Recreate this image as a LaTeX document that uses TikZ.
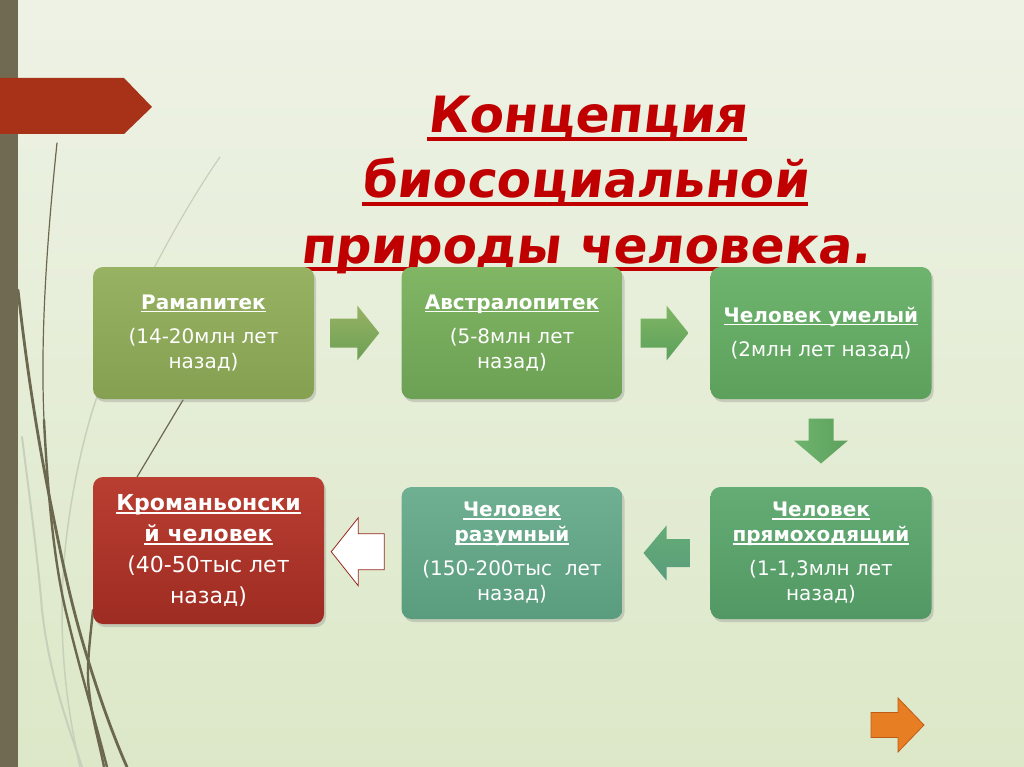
\documentclass[tikz,border=0pt]{standalone}
\usepackage{fontspec}
\setmainfont{DejaVu Sans}
\newfontfamily\titlefont[FakeSlant=0.12]{DejaVu Sans Bold}
\usetikzlibrary{shadows,calc}
\definecolor{bgtop}{RGB}{238,242,229}
\definecolor{bgbot}{RGB}{220,232,200}
\definecolor{barcol}{RGB}{112,106,82}
\definecolor{bannercol}{RGB}{168,50,24}
\definecolor{titlered}{RGB}{192,0,0}
\definecolor{stemcol}{RGB}{108,104,80}
\definecolor{stemlight}{RGB}{200,208,185}
\definecolor{bAt}{RGB}{152,178,100}\definecolor{bAb}{RGB}{132,160,80}
\definecolor{bBt}{RGB}{128,182,100}\definecolor{bBb}{RGB}{108,160,84}
\definecolor{bCt}{RGB}{110,180,110}\definecolor{bCb}{RGB}{92,160,92}
\definecolor{bDt}{RGB}{100,172,116}\definecolor{bDb}{RGB}{82,152,100}
\definecolor{bEt}{RGB}{112,176,146}\definecolor{bEb}{RGB}{90,156,126}
\definecolor{bFt}{RGB}{186,62,50}\definecolor{bFb}{RGB}{158,44,34}
\definecolor{orangecol}{RGB}{232,126,36}
\definecolor{orangeline}{RGB}{190,92,22}
\definecolor{wline}{RGB}{150,40,30}
\newcommand\ulin[4]{\leavevmode\setbox0=\hbox{#4}\rlap{\color{#3}\rule[-#1]{\wd0}{#2}}\box0}
\newcommand\hd[1]{\textbf{\ulin{3pt}{1.5pt}{white}{#1}}}
\tikzset{
  titletext/.style={anchor=base, inner sep=0pt, text=titlered,
    font=\titlefont\fontsize{50}{60}\selectfont},
  stagebox/.style={rounded corners=10pt, minimum width=221pt, minimum height=132pt,
    text=white, align=center, inner sep=0pt,
    font=\fontsize{20}{25}\selectfont,
    drop shadow={shadow xshift=2pt, shadow yshift=-3pt, opacity=0.3}},
  stem/.style={draw=stemcol, line cap=round},
  lightstem/.style={draw=stemlight, line cap=round},
  pics/blockarrow/.style args={#1/#2/#3/#4}{code={
    \path[pic actions] (-#1,-#3) -- ({#1-#4},-#3) -- ({#1-#4},-#2) -- (#1,0)
      -- ({#1-#4},#2) -- ({#1-#4},#3) -- (-#1,#3) -- cycle;}}
}
\begin{document}
\begin{tikzpicture}[x=1pt,y=-1pt]
\useasboundingbox (0,0) rectangle (1024,767);
% background
\fill[top color=bgtop, bottom color=bgbot] (0,0) rectangle (1024,767);
% light stems
\draw[lightstem, line width=1.2pt] (220,157) .. controls (190,200) and (150,270) .. (120,340);
\draw[lightstem, line width=1.5pt] (97,397) .. controls (85,430) and (62,520) .. (62,610) .. controls (62,680) and (72,730) .. (80,767);
\draw[lightstem, line width=2pt] (22,437) .. controls (30,500) and (38,560) .. (42,610) .. controls (50,680) and (70,730) .. (82,767);
% dark stems
\draw[stem, line width=1.2pt] (57,143) .. controls (48,230) and (40,330) .. (44,420);
\draw[stem, line width=2.4pt] (44,420) .. controls (48,500) and (55,570) .. (68,620) .. controls (80,670) and (95,720) .. (107,767);
\draw[stem, line width=2.8pt] (18,290) .. controls (28,380) and (40,450) .. (50,500) .. controls (62,560) and (70,600) .. (85,650) .. controls (100,700) and (115,740) .. (127,767);
\draw[stem, line width=1.2pt] (183,400) -- (137,477);
\draw[stem, line width=2.4pt] (93,610) .. controls (90,640) and (86,670) .. (89,690) .. controls (92,720) and (100,745) .. (104,767);
% left bar and banner
\fill[barcol] (0,0) rectangle (18,767);
\fill[bannercol] (0,78) -- (124,78) -- (152,107) -- (124,134) -- (0,134) -- cycle;
% title
\node[titletext] (t1) at (587,133) {\ulin{8pt}{4pt}{titlered}{Концепция}};
\node[titletext] (t2) at (585,198) {\ulin{8pt}{4pt}{titlered}{биосоциальной}};
\node[titletext] (t3) at (585,263) {\ulin{8pt}{4pt}{titlered}{природы человека.}};
% boxes
\node[stagebox, top color=bAt, bottom color=bAb] (b1) at (203.5,333)
  {\hd{Рамапитек}\\[9pt](14-20млн лет\\назад)};
\node[stagebox, top color=bBt, bottom color=bBb] (b2) at (512,333)
  {\hd{Австралопитек}\\[9pt](5-8млн лет\\назад)};
\node[stagebox, top color=bCt, bottom color=bCb] (b3) at (821,333)
  {\hd{Человек умелый}\\[9pt](2млн лет назад)};
\node[stagebox, top color=bDt, bottom color=bDb] (b4) at (821,553)
  {\hd{Человек}\\[0pt]\hd{прямоходящий}\\[9pt](1-1,3млн лет\\назад)};
\node[stagebox, top color=bEt, bottom color=bEb] (b5) at (512,553)
  {\hd{Человек}\\[0pt]\hd{разумный}\\[9pt](150-200тыс\ \ лет\\назад)};
\node[stagebox, top color=bFt, bottom color=bFb, minimum width=231pt, minimum height=147pt,
  font=\fontsize{22}{31}\selectfont] (b6) at (208.5,550.5)
  {\hd{Кроманьонски}\\\hd{й человек}\\(40-50тыс лет\\назад)};
% arrows between stages
\pic[top color=bAt, bottom color=bBb] (a1) at ($(b1.east)!0.5!(b2.west)+(-3,0)$) {blockarrow={24.5/27.5/14.5/22}};
\pic[top color=bBt, bottom color=bCb] (a2) at ($(b2.east)!0.5!(b3.west)+(-2,0)$) {blockarrow={24/27.5/14.5/22}};
\pic[rotate=270, left color=bCt, right color=bCb] (a3) at ($(b3.south)!0.5!(b4.north)+(0,-2)$) {blockarrow={22.5/27/12.5/23}};
\pic[rotate=180, top color=bDt, bottom color=bEb] (a4) at ($(b5.east)!0.5!(b4.west)$) {blockarrow={23/27.5/14/23}};
\pic[rotate=180, fill=white, draw=wline, line width=0.8pt] (a5) at ($(b6.east)!0.5!(b5.west)+(-5,0)$) {blockarrow={26.5/34/18/27}};
% navigation arrow
\pic[fill=orangecol, draw=orangeline, line width=0.8pt] (nav) at (897.5,725) {blockarrow={26.5/27/12.5/26}};
\end{tikzpicture}
\end{document}
